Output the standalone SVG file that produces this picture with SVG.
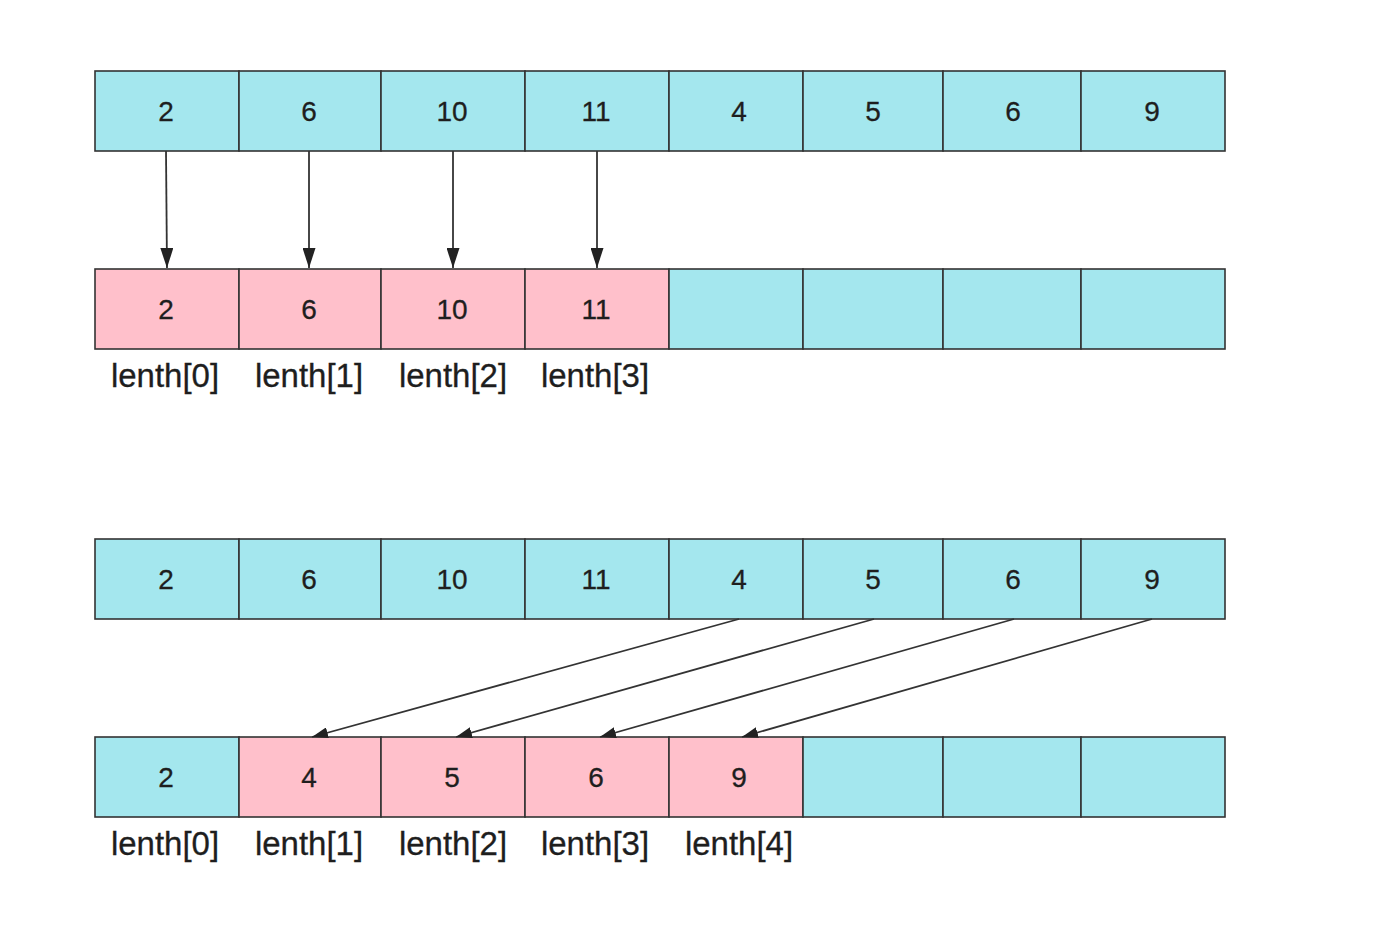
<svg xmlns="http://www.w3.org/2000/svg" width="1388" height="934" viewBox="0 0 1388 934">
<style>
.c{fill:#a4e7ee;stroke:#333;stroke-width:1.6}
.p{fill:#ffc0cb;stroke:#333;stroke-width:1.6}
.n{font-family:"Liberation Sans",Arial,sans-serif;font-size:28px;fill:#1e1e1e;text-anchor:middle;stroke:#1e1e1e;stroke-width:0.3}
.l{font-family:"Liberation Sans",Arial,sans-serif;font-size:33px;fill:#1e1e1e;text-anchor:middle;stroke:#1e1e1e;stroke-width:0.3}
.e{fill:none;stroke:#333;stroke-width:1.8}
</style>
<defs>
<marker id="ah" markerWidth="20" markerHeight="13" refX="20" refY="6.5" orient="auto" markerUnits="userSpaceOnUse" viewBox="0 0 20 13">
<path d="M0,0 L20,6.5 L0,13 Z" fill="#222"/>
</marker>
<marker id="ah2" markerWidth="16" markerHeight="11" refX="16" refY="5.5" orient="auto" markerUnits="userSpaceOnUse" viewBox="0 0 16 11">
<path d="M0,0 L16,5.5 L0,11 Z" fill="#222"/>
</marker>
</defs>
<rect width="1388" height="934" fill="#fff"/>
<g id="row1">
<g id="r1c0"><rect class="c" x="95" y="71" width="144" height="80"/><text class="n" x="166" y="121">2</text></g>
<g id="r1c1"><rect class="c" x="239" y="71" width="142" height="80"/><text class="n" x="309" y="121">6</text></g>
<g id="r1c2"><rect class="c" x="381" y="71" width="144" height="80"/><text class="n" x="452" y="121">10</text></g>
<g id="r1c3"><rect class="c" x="525" y="71" width="144" height="80"/><text class="n" x="596" y="121">11</text></g>
<g id="r1c4"><rect class="c" x="669" y="71" width="134" height="80"/><text class="n" x="739" y="121">4</text></g>
<g id="r1c5"><rect class="c" x="803" y="71" width="140" height="80"/><text class="n" x="873" y="121">5</text></g>
<g id="r1c6"><rect class="c" x="943" y="71" width="138" height="80"/><text class="n" x="1013" y="121">6</text></g>
<g id="r1c7"><rect class="c" x="1081" y="71" width="144" height="80"/><text class="n" x="1152" y="121">9</text></g>
</g>
<g id="row2">
<g id="r2c0"><rect class="p" x="95" y="269" width="144" height="80"/><text class="n" x="166" y="319">2</text></g>
<g id="r2c1"><rect class="p" x="239" y="269" width="142" height="80"/><text class="n" x="309" y="319">6</text></g>
<g id="r2c2"><rect class="p" x="381" y="269" width="144" height="80"/><text class="n" x="452" y="319">10</text></g>
<g id="r2c3"><rect class="p" x="525" y="269" width="144" height="80"/><text class="n" x="596" y="319">11</text></g>
<g id="r2c4"><rect class="c" x="669" y="269" width="134" height="80"/></g>
<g id="r2c5"><rect class="c" x="803" y="269" width="140" height="80"/></g>
<g id="r2c6"><rect class="c" x="943" y="269" width="138" height="80"/></g>
<g id="r2c7"><rect class="c" x="1081" y="269" width="144" height="80"/></g>
</g>
<g id="labels1">
<text class="l" x="165" y="387">lenth[0]</text>
<text class="l" x="309" y="387">lenth[1]</text>
<text class="l" x="453" y="387">lenth[2]</text>
<text class="l" x="595" y="387">lenth[3]</text>
</g>
<g id="row3">
<g id="r3c0"><rect class="c" x="95" y="539" width="144" height="80"/><text class="n" x="166" y="589">2</text></g>
<g id="r3c1"><rect class="c" x="239" y="539" width="142" height="80"/><text class="n" x="309" y="589">6</text></g>
<g id="r3c2"><rect class="c" x="381" y="539" width="144" height="80"/><text class="n" x="452" y="589">10</text></g>
<g id="r3c3"><rect class="c" x="525" y="539" width="144" height="80"/><text class="n" x="596" y="589">11</text></g>
<g id="r3c4"><rect class="c" x="669" y="539" width="134" height="80"/><text class="n" x="739" y="589">4</text></g>
<g id="r3c5"><rect class="c" x="803" y="539" width="140" height="80"/><text class="n" x="873" y="589">5</text></g>
<g id="r3c6"><rect class="c" x="943" y="539" width="138" height="80"/><text class="n" x="1013" y="589">6</text></g>
<g id="r3c7"><rect class="c" x="1081" y="539" width="144" height="80"/><text class="n" x="1152" y="589">9</text></g>
</g>
<g id="row4">
<g id="r4c0"><rect class="c" x="95" y="737" width="144" height="80"/><text class="n" x="166" y="787">2</text></g>
<g id="r4c1"><rect class="p" x="239" y="737" width="142" height="80"/><text class="n" x="309" y="787">4</text></g>
<g id="r4c2"><rect class="p" x="381" y="737" width="144" height="80"/><text class="n" x="452" y="787">5</text></g>
<g id="r4c3"><rect class="p" x="525" y="737" width="144" height="80"/><text class="n" x="596" y="787">6</text></g>
<g id="r4c4"><rect class="p" x="669" y="737" width="134" height="80"/><text class="n" x="739" y="787">9</text></g>
<g id="r4c5"><rect class="c" x="803" y="737" width="140" height="80"/></g>
<g id="r4c6"><rect class="c" x="943" y="737" width="138" height="80"/></g>
<g id="r4c7"><rect class="c" x="1081" y="737" width="144" height="80"/></g>
</g>
<g id="labels2">
<text class="l" x="165" y="855">lenth[0]</text>
<text class="l" x="309" y="855">lenth[1]</text>
<text class="l" x="453" y="855">lenth[2]</text>
<text class="l" x="595" y="855">lenth[3]</text>
<text class="l" x="739" y="855">lenth[4]</text>
</g>
<g id="connectors">
<path class="e" d="M166,151 L167,268" marker-end="url(#ah)"/>
<path class="e" d="M309,151 L309,268" marker-end="url(#ah)"/>
<path class="e" d="M453,151 L453,268" marker-end="url(#ah)"/>
<path class="e" d="M597,151 L597,268" marker-end="url(#ah)"/>
<path class="e" d="M739,619 L312,737" marker-end="url(#ah2)"/>
<path class="e" d="M874,619 L456,737" marker-end="url(#ah2)"/>
<path class="e" d="M1014,619 L600,737" marker-end="url(#ah2)"/>
<path class="e" d="M1152,619 L742,737" marker-end="url(#ah2)"/>
</g>
</svg>
